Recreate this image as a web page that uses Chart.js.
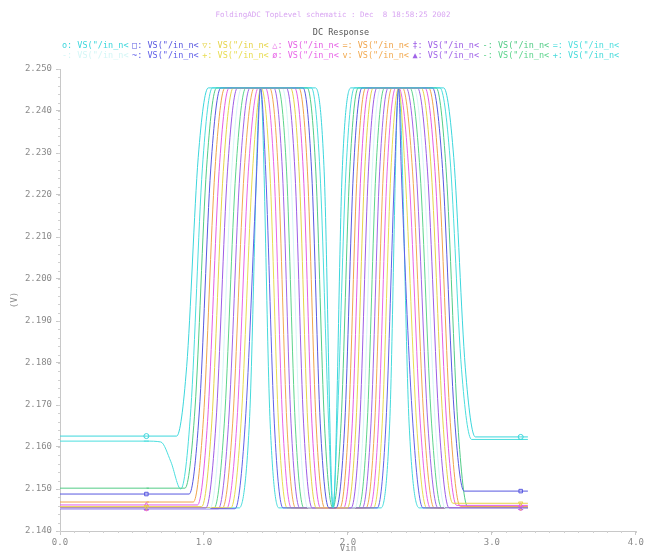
<!DOCTYPE html>
<html>
<head>
<meta charset="utf-8">
<script src="https://cdn.jsdelivr.net/npm/chart.js@4.4.1/dist/chart.umd.min.js"></script>
<style>
  body { margin: 0; background: #fff; }
</style>
</head>
<body>
<canvas id="dcChart" width="646" height="557"></canvas>
<script>
// DC sweep of the 16 folder outputs, [Vin, V]
const s0 = [[0,2.1626],[0.6,2.1626],[0.81,2.1626],[0.88,2.1792],[0.96,2.2289],[1.03,2.2455],
  [1.775,2.2455],[1.835,2.2255],[1.8975,2.1455],[1.96,2.2255],[2.02,2.2455],
  [2.665,2.2455],[2.735,2.2289],[2.815,2.1790],[2.885,2.1624],[3.2,2.1624],[3.25,2.1624]];
const s1 = [[0,2.1488],[0.6,2.1488],[0.897,2.1488],[0.967,2.1681],[1.047,2.2262],[1.117,2.2455],
  [1.688,2.2455],[1.748,2.2255],[1.808,2.1655],[1.868,2.1455],[1.918,2.1455],[1.978,2.1655],[2.038,2.2255],[2.098,2.2455],
  [2.587,2.2455],[2.657,2.2263],[2.737,2.1687],[2.807,2.1495],[3.2,2.1495],[3.25,2.1495]];
const s2 = [[0,2.1458],[0.6,2.1458],[0.984,2.1458],[1.054,2.1657],[1.134,2.2256],[1.204,2.2455],
  [1.601,2.2455],[1.661,2.2255],[1.721,2.1655],[1.781,2.1455],[1.996,2.1455],[2.056,2.1655],[2.116,2.2255],[2.176,2.2455],
  [2.509,2.2455],[2.579,2.2257],[2.659,2.1664],[2.729,2.1466],[3.2,2.1466],[3.25,2.1466]];
const s3 = [[0,2.1462],[0.6,2.1462],[0.955,2.1462],[1.025,2.1661],[1.105,2.2256],[1.175,2.2455],
  [1.63,2.2455],[1.69,2.2255],[1.75,2.1655],[1.81,2.1455],[1.97,2.1455],[2.03,2.1655],[2.09,2.2255],[2.15,2.2455],
  [2.535,2.2455],[2.605,2.2256],[2.685,2.1660],[2.755,2.1461],[3.2,2.1461],[3.25,2.1461]];
const s4 = [[0,2.1469],[0.6,2.1469],[0.926,2.1469],[0.996,2.1666],[1.076,2.2258],[1.146,2.2455],
  [1.659,2.2455],[1.719,2.2255],[1.779,2.1655],[1.839,2.1455],[1.944,2.1455],[2.004,2.1655],[2.064,2.2255],[2.124,2.2455],
  [2.561,2.2455],[2.631,2.2255],[2.711,2.1658],[2.781,2.1458],[3.2,2.1458],[3.25,2.1458]];
const s5 = [[0,2.1455],[0.6,2.1455],[1.013,2.1455],[1.083,2.1655],[1.163,2.2255],[1.233,2.2455],
  [1.572,2.2455],[1.632,2.2255],[1.692,2.1655],[1.752,2.1455],[2.022,2.1455],[2.082,2.1655],[2.142,2.2255],[2.202,2.2455],
  [2.483,2.2455],[2.553,2.2255],[2.633,2.1655],[2.703,2.1455],[3.2,2.1455],[3.25,2.1455]];
const s6 = [[0,2.1502],[0.6,2.1502],[0.868,2.1502],[0.938,2.1693],[1.018,2.2264],[1.088,2.2455],
  [1.717,2.2455],[1.777,2.2255],[1.837,2.1655],[1.8945,2.1455],[1.952,2.1655],[2.012,2.2255],[2.072,2.2455],
  [2.613,2.2455],[2.683,2.2255],[2.763,2.1657],[2.833,2.1457],[3.2,2.1457],[3.25,2.1457]];
const s7 = [[0,2.1614],[0.6,2.1614],[0.7,2.1612],[0.77,2.1565],[0.839,2.1500],[0.909,2.1691],[0.989,2.2264],[1.059,2.2455],
  [1.746,2.2455],[1.806,2.2255],[1.866,2.1655],[1.896,2.1455],[1.926,2.1655],[1.986,2.2255],[2.046,2.2455],
  [2.639,2.2455],[2.709,2.2288],[2.789,2.1785],[2.859,2.1618],[3.2,2.1618],[3.25,2.1618]];
const s8 = [[0,2.1454],[0.6,2.1454],[1.042,2.1454],[1.112,2.1654],[1.192,2.2255],[1.262,2.2455],
  [1.543,2.2455],[1.603,2.2255],[1.663,2.1655],[1.723,2.1455],[2.048,2.1455],[2.108,2.1655],[2.168,2.2255],[2.228,2.2455],
  [2.457,2.2455],[2.527,2.2255],[2.607,2.1654],[2.677,2.1454],[3.2,2.1454],[3.25,2.1454]];
const s9 = [[0,2.1453],[0.6,2.1453],[1.216,2.1453],[1.286,2.1653],[1.366,2.2255],[1.3925,2.2455],[1.429,2.2255],[1.489,2.1655],[1.549,2.1455],
  [2.204,2.1455],[2.264,2.1655],[2.324,2.2255],[2.3525,2.2455],[2.371,2.2255],[2.451,2.1655],[2.521,2.1455],[3.2,2.1455],[3.25,2.1455]];
const s10 = [[0,2.1455],[0.6,2.1455],[1.187,2.1455],[1.257,2.1655],[1.337,2.2255],[1.3975,2.2455],
  [1.458,2.2255],[1.518,2.1655],[1.578,2.1455],[2.178,2.1455],[2.238,2.1655],[2.298,2.2255],[2.3525,2.2455],
  [2.397,2.2255],[2.477,2.1655],[2.547,2.1455],[3.2,2.1455],[3.25,2.1455]];
const s11 = [[0,2.1454],[0.6,2.1454],[1.158,2.1454],[1.228,2.1654],[1.308,2.2255],[1.378,2.2455],
  [1.427,2.2455],[1.487,2.2255],[1.547,2.1655],[1.607,2.1455],[2.152,2.1455],[2.212,2.1655],[2.272,2.2255],[2.332,2.2455],
  [2.353,2.2455],[2.423,2.2255],[2.503,2.1655],[2.573,2.1455],[3.2,2.1455],[3.25,2.1455]];
const s12 = [[0,2.1455],[0.6,2.1455],[1.129,2.1455],[1.199,2.1655],[1.279,2.2255],[1.349,2.2455],
  [1.456,2.2455],[1.516,2.2255],[1.576,2.1655],[1.636,2.1455],[2.126,2.1455],[2.186,2.1655],[2.246,2.2255],[2.306,2.2455],
  [2.379,2.2455],[2.449,2.2255],[2.529,2.1655],[2.599,2.1455],[3.2,2.1455],[3.25,2.1455]];
const s13 = [[0,2.1453],[0.6,2.1453],[1.10,2.1453],[1.17,2.1653],[1.25,2.2255],[1.32,2.2455],
  [1.485,2.2455],[1.545,2.2255],[1.605,2.1655],[1.665,2.1455],[2.10,2.1455],[2.16,2.1655],[2.22,2.2255],[2.28,2.2455],
  [2.405,2.2455],[2.475,2.2255],[2.555,2.1655],[2.625,2.1455],[3.2,2.1455],[3.25,2.1455]];
const s14 = [[0,2.1455],[0.6,2.1455],[1.071,2.1455],[1.141,2.1655],[1.221,2.2255],[1.291,2.2455],
  [1.514,2.2455],[1.574,2.2255],[1.634,2.1655],[1.694,2.1455],[2.074,2.1455],[2.134,2.1655],[2.194,2.2255],[2.254,2.2455],
  [2.431,2.2455],[2.501,2.2255],[2.581,2.1655],[2.651,2.1455],[3.2,2.1455],[3.25,2.1455]];
const s15 = [[0,2.1455],[0.6,2.1455],[1.245,2.1455],[1.315,2.1655],[1.3925,2.2455],[1.46,2.1655],[1.52,2.1455],
  [2.23,2.1455],[2.29,2.1655],[2.3525,2.2455],[2.425,2.1655],[2.495,2.1455],[3.2,2.1455],[3.25,2.1455]];

const series = [s0, s1, s2, s3, s4, s5, s6, s7, s8, s9, s10, s11, s12, s13, s14, s15];
const seriesLabel = 'VS("/in_n<';
const legendMarks = ['o', '\u25a1', '\u25bd', '\u25b3', '=', '\u2021', '-', '=',
                     '-', '~', '+', '\u00f8', 'v', '\u25b2', '-', '+'];
const colors = ['#3cd6dc', '#5858e0', '#e6d448', '#e45ce4', '#f0a44a', '#9c5ce6', '#52cc86', '#4cdede',
                '#d4f6f6', '#6060e8', '#e8dc50', '#e864e8', '#f2aa50', '#a064e8', '#5cd48c', '#44dada'];
const pointStyles = ['circle', 'rect', 'triangle', 'triangle', 'dash', 'crossRot', 'dash', 'line',
                     'dash', 'line', 'cross', 'circle', 'triangle', 'triangle', 'dash', 'cross'];
const pointRotations = [0, 0, 180, 0, 0, 0, 0, 0, 0, 0, 0, 0, 180, 0, 0, 0];
const xTicks = [0, 4, 1];          // min, max, step
const yTicks = [2.14, 2.25, 0.01]; // min, max, step
const chartTitle = 'FoldingADC TopLevel schematic : Dec  8 18:58:25 2002';
const chartSubtitle = 'DC Response';

const monoFont = '"DejaVu Sans Mono", "Liberation Mono", monospace';

// title, subtitle and the two-row legend
const header = {
  id: 'header',
  afterDraw(chart) {
    const ctx = chart.ctx;
    ctx.save();
    ctx.textBaseline = 'middle';
    ctx.textAlign = 'center';
    ctx.font = '7.5px ' + monoFont;
    ctx.fillStyle = '#d9a6f2';
    ctx.fillText(chartTitle, 333, 15);
    ctx.font = '8.5px ' + monoFont;
    ctx.fillStyle = '#555555';
    ctx.fillText(chartSubtitle, 341, 33);
    ctx.textAlign = 'left';
    chart.data.datasets.forEach((ds, i) => {
      const col = i % 8, row = Math.floor(i / 8);
      ctx.fillStyle = ds.borderColor;
      ctx.fillText(legendMarks[i] + ': ' + ds.label, 62 + col * 70.1, 46 + row * 10);
    });
    ctx.restore();
  }
};

// small ticks between the labelled ones
const minorTicks = {
  id: 'minorTicks',
  afterDraw(chart) {
    const {ctx, scales: {x, y}, chartArea: a} = chart;
    ctx.save();
    ctx.strokeStyle = '#d0d0d0';
    ctx.lineWidth = 1;
    ctx.beginPath();
    for (let i = 0; i <= 40; i++) {
      const px = Math.round(x.getPixelForValue(i / 10)) + 0.5;
      ctx.moveTo(px, a.bottom);
      ctx.lineTo(px, a.bottom + 2);
    }
    for (let i = 0; i <= 55; i++) {
      const py = Math.round(y.getPixelForValue(yTicks[0] + i * 0.002)) + 0.5;
      ctx.moveTo(a.left - 2, py);
      ctx.lineTo(a.left, py);
    }
    ctx.stroke();
    ctx.restore();
  }
};

new Chart(document.getElementById('dcChart'), {
  type: 'line',
  data: {
    datasets: series.map((data, i) => ({
      label: seriesLabel,
      data: data,
      borderColor: colors[i],
      backgroundColor: 'rgba(0,0,0,0)',
      borderWidth: 1,
      pointStyle: pointStyles[i],
      rotation: pointRotations[i],
      pointBorderWidth: 1,
      pointRadius: ctx => (ctx.raw && (ctx.raw[0] === 0.6 || ctx.raw[0] === 3.2)) ? 2.5 : 0
    }))
  },
  options: {
    responsive: false,
    animation: false,
    devicePixelRatio: 1,
    layout: { padding: { top: 69, right: 5, left: 0, bottom: 0 } },
    elements: { line: { cubicInterpolationMode: 'monotone', fill: false } },
    plugins: { legend: { display: false }, title: { display: false }, tooltip: { enabled: false } },
    scales: {
      x: {
        type: 'linear',
        min: xTicks[0], max: xTicks[1],
        afterFit: s => { s.height = 26; },
        ticks: { stepSize: xTicks[2], padding: 2, color: '#8a8a8a', font: { family: monoFont, size: 9 },
                 callback: v => v.toFixed(1), maxRotation: 0 },
        grid: { drawOnChartArea: false, tickLength: 4, tickColor: '#c8c8c8' },
        border: { color: '#c8c8c8' },
        title: { display: true, text: 'Vin', color: '#8a8a8a', font: { family: monoFont, size: 9 },
                 padding: { top: 0, bottom: 3 } }
      },
      y: {
        min: yTicks[0], max: yTicks[1],
        afterFit: s => { s.width = 60; },
        ticks: { stepSize: yTicks[2], padding: 4, color: '#8a8a8a', font: { family: monoFont, size: 9 },
                 callback: v => v.toFixed(3) },
        grid: { drawOnChartArea: false, tickLength: 4, tickColor: '#c8c8c8' },
        border: { color: '#c8c8c8' },
        title: { display: true, text: '(V)', color: '#8a8a8a', font: { family: monoFont, size: 9 },
                 padding: { top: 9, bottom: 0 } }
      }
    }
  },
  plugins: [header, minorTicks]
});
</script>
</body>
</html>
